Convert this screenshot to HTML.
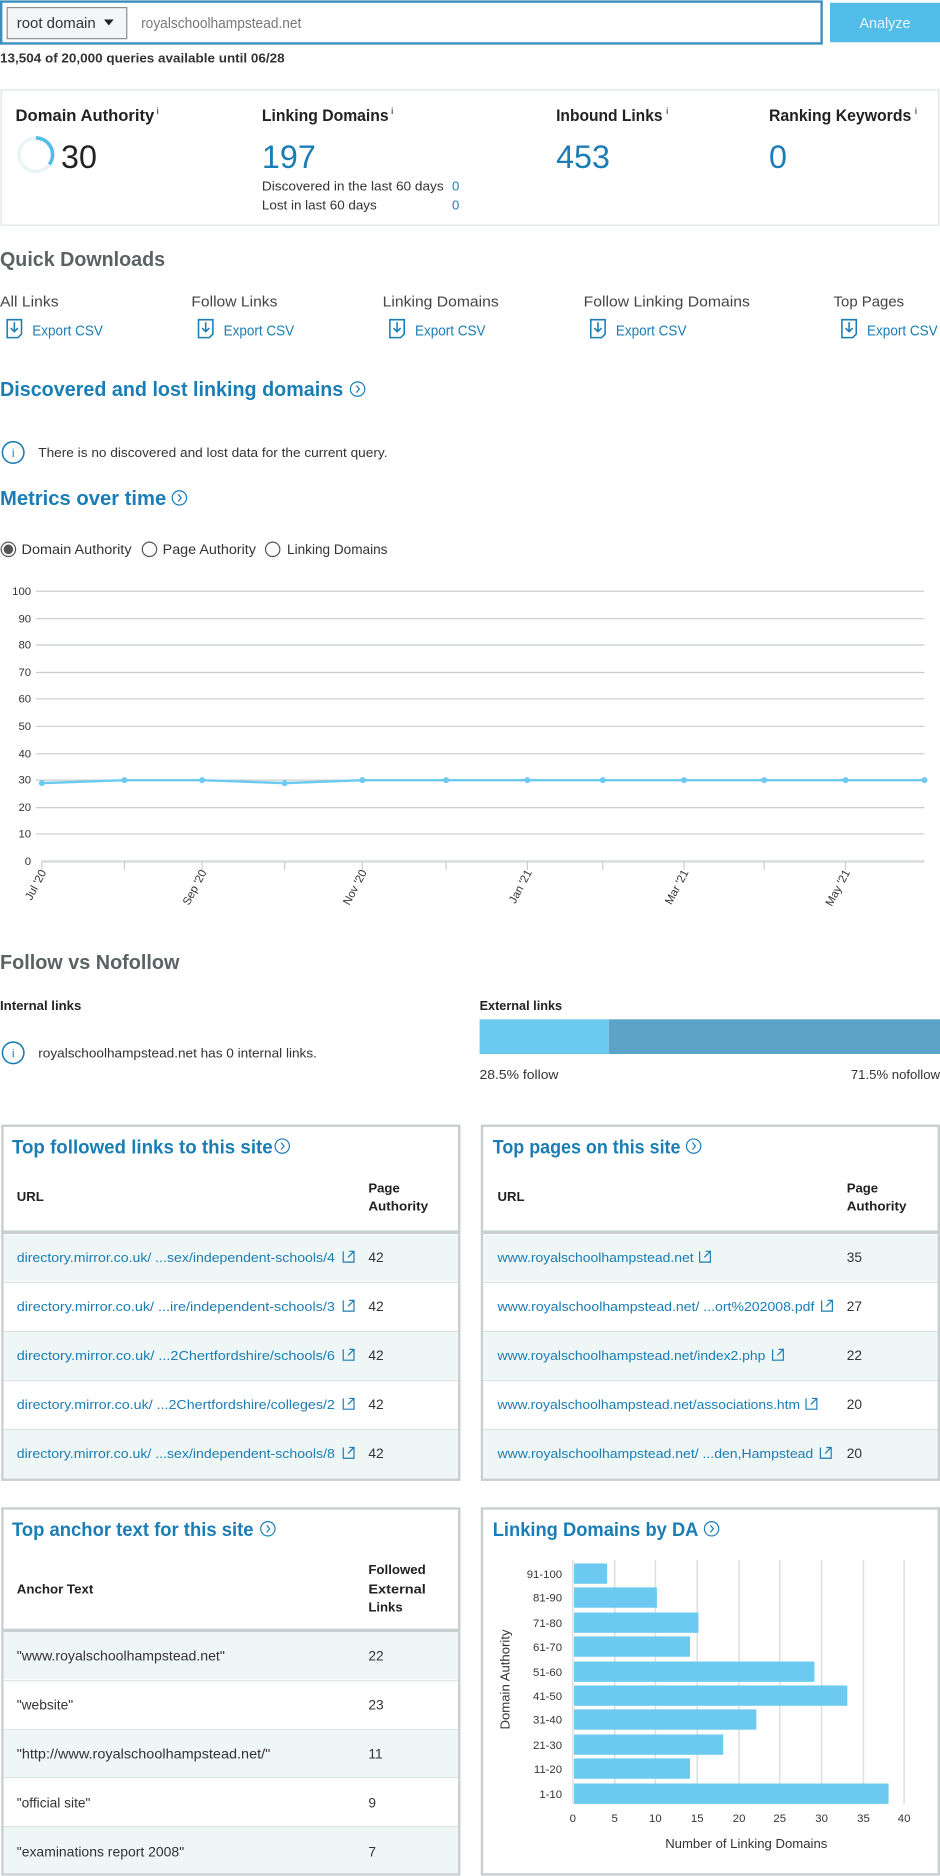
<!DOCTYPE html>
<html><head><meta charset="utf-8"><style>
html,body{margin:0;padding:0;background:#fff;}
svg{display:block;}
text{font-family:"Liberation Sans",sans-serif;}
</style></head><body>
<svg width="940" height="1876" viewBox="0 0 786 1568" xmlns="http://www.w3.org/2000/svg">
<rect x="1" y="1" width="686" height="35" fill="#fff" stroke="#3b8fbf" stroke-width="2"/>
<rect x="6" y="6" width="100" height="26" fill="#f2f6f6" stroke="#8a9090" stroke-width="1"/>
<text x="14" y="23" font-size="12" fill="#333" textLength="66" lengthAdjust="spacingAndGlyphs">root domain</text>
<path d="M87 16 L95 16 L91 21 Z" fill="#222"/>
<text x="118" y="23" font-size="12" fill="#777" textLength="134" lengthAdjust="spacingAndGlyphs">royalschoolhampstead.net</text>
<rect x="694" y="2" width="92" height="33" fill="#52bde8"/>
<text x="740" y="23" font-size="12" fill="#e8f6fc" text-anchor="middle">Analyze</text>
<text x="0" y="52" font-size="11" font-weight="bold" fill="#333" textLength="238" lengthAdjust="spacingAndGlyphs">13,504 of 20,000 queries available until 06/28</text>
<rect x="1" y="75" width="784" height="113" fill="#fff" stroke="#dde3e3" stroke-width="1"/>
<g font-size="14" font-weight="bold" fill="#222">
<text x="13" y="101" textLength="116" lengthAdjust="spacingAndGlyphs">Domain Authority</text>
<text x="219" y="101" textLength="106" lengthAdjust="spacingAndGlyphs">Linking Domains</text>
<text x="465" y="101" textLength="89" lengthAdjust="spacingAndGlyphs">Inbound Links</text>
<text x="643" y="101" textLength="119" lengthAdjust="spacingAndGlyphs">Ranking Keywords</text>
</g>
<g font-size="8" fill="#222"><text x="131" y="95">i</text><text x="327" y="95">i</text><text x="557" y="95">i</text><text x="765" y="95">i</text></g>
<circle cx="30" cy="129" r="14" fill="none" stroke="#e9f4f6" stroke-width="3"/>
<path d="M30 115 A14 14 0 0 1 41.3 137.2" fill="none" stroke="#52bde8" stroke-width="3"/>
<text x="51" y="140" font-size="27" fill="#222">30</text>
<text x="219" y="140" font-size="27" fill="#1a7db5">197</text>
<text x="465" y="140" font-size="27" fill="#1a7db5">453</text>
<text x="643" y="140" font-size="27" fill="#1a7db5">0</text>
<text x="219" y="159" font-size="11" fill="#333" textLength="152" lengthAdjust="spacingAndGlyphs">Discovered in the last 60 days</text>
<text x="378" y="159" font-size="11" fill="#1a7db5">0</text>
<text x="219" y="175" font-size="11" fill="#333" textLength="96" lengthAdjust="spacingAndGlyphs">Lost in last 60 days</text>
<text x="378" y="175" font-size="11" fill="#1a7db5">0</text>
<text x="0" y="222" font-size="17" font-weight="bold" fill="#5a6262" font-family="Liberation Serif" textLength="138" lengthAdjust="spacingAndGlyphs">Quick Downloads</text>
<g font-size="12.5" fill="#444">
<text x="0" y="256" textLength="49" lengthAdjust="spacingAndGlyphs">All Links</text><text x="160" y="256" textLength="72" lengthAdjust="spacingAndGlyphs">Follow Links</text><text x="320" y="256" textLength="97" lengthAdjust="spacingAndGlyphs">Linking Domains</text><text x="488" y="256" textLength="139" lengthAdjust="spacingAndGlyphs">Follow Linking Domains</text><text x="697" y="256" textLength="59" lengthAdjust="spacingAndGlyphs">Top Pages</text>
</g>
<g font-size="12" fill="#1a7db5">
<text x="27" y="280" textLength="59" lengthAdjust="spacingAndGlyphs">Export CSV</text><text x="187" y="280" textLength="59" lengthAdjust="spacingAndGlyphs">Export CSV</text><text x="347" y="280" textLength="59" lengthAdjust="spacingAndGlyphs">Export CSV</text><text x="515" y="280" textLength="59" lengthAdjust="spacingAndGlyphs">Export CSV</text><text x="725" y="280" textLength="59" lengthAdjust="spacingAndGlyphs">Export CSV</text>
</g>
<g fill="none" stroke="#1a7db5" stroke-width="1.3">
<path d="M6 267 h12 v12 l-3 3 h-9 z M12 269 v8 M9 274 l3 3 l3 -3"/>
<path d="M166 267 h12 v12 l-3 3 h-9 z M172 269 v8 M169 274 l3 3 l3 -3"/>
<path d="M326 267 h12 v12 l-3 3 h-9 z M332 269 v8 M329 274 l3 3 l3 -3"/>
<path d="M494 267 h12 v12 l-3 3 h-9 z M500 269 v8 M497 274 l3 3 l3 -3"/>
<path d="M704 267 h12 v12 l-3 3 h-9 z M710 269 v8 M707 274 l3 3 l3 -3"/>
</g>
<text x="0" y="331" font-size="17" font-weight="bold" fill="#1a7db5" textLength="287" lengthAdjust="spacingAndGlyphs">Discovered and lost linking domains</text>
<circle cx="299" cy="325" r="6" fill="none" stroke="#1a7db5" stroke-width="1"/><path d="M298 322 l2.5 3 l-2.5 3" fill="none" stroke="#1a7db5"/>
<circle cx="11" cy="378" r="9" fill="none" stroke="#1a7db5" stroke-width="1.3"/>
<text x="11" y="382" font-size="10" fill="#1a7db5" text-anchor="middle">i</text>
<text x="32" y="382" font-size="11" fill="#333" textLength="292" lengthAdjust="spacingAndGlyphs">There is no discovered and lost data for the current query.</text>
<text x="0" y="422" font-size="17" font-weight="bold" fill="#1a7db5" textLength="139" lengthAdjust="spacingAndGlyphs">Metrics over time</text>
<circle cx="150" cy="416" r="6" fill="none" stroke="#1a7db5" stroke-width="1"/><path d="M149 413 l2.5 3 l-2.5 3" fill="none" stroke="#1a7db5"/>
<circle cx="7" cy="459" r="6" fill="none" stroke="#555"/><circle cx="7" cy="459" r="4" fill="#555"/>
<text x="18" y="463" font-size="11.5" fill="#333" textLength="92" lengthAdjust="spacingAndGlyphs">Domain Authority</text>
<circle cx="125" cy="459" r="6" fill="none" stroke="#555"/>
<text x="136" y="463" font-size="11.5" fill="#333" textLength="78" lengthAdjust="spacingAndGlyphs">Page Authority</text>
<circle cx="228" cy="459" r="6" fill="none" stroke="#555"/>
<text x="240" y="463" font-size="11.5" fill="#333" textLength="84" lengthAdjust="spacingAndGlyphs">Linking Domains</text>
<g stroke="#c8cccc" stroke-width="1">
<line x1="30" y1="494" x2="773" y2="494"/><line x1="30" y1="517" x2="773" y2="517"/><line x1="30" y1="539" x2="773" y2="539"/><line x1="30" y1="562" x2="773" y2="562"/><line x1="30" y1="584" x2="773" y2="584"/><line x1="30" y1="607" x2="773" y2="607"/><line x1="30" y1="630" x2="773" y2="630"/><line x1="30" y1="652" x2="773" y2="652"/><line x1="30" y1="675" x2="773" y2="675"/><line x1="30" y1="697" x2="773" y2="697"/>
</g>
<line x1="35" y1="720" x2="773" y2="720" stroke="#d8dcdc" stroke-width="2"/>
<g font-size="9.5" fill="#333" text-anchor="end">
<text x="26" y="497">100</text><text x="26" y="520">90</text><text x="26" y="542">80</text><text x="26" y="565">70</text><text x="26" y="587">60</text><text x="26" y="610">50</text><text x="26" y="633">40</text><text x="26" y="655">30</text><text x="26" y="678">20</text><text x="26" y="700">10</text><text x="26" y="723">0</text>
</g>
<g stroke="#ccc"><line x1="35" y1="720" x2="35" y2="727"/><line x1="104" y1="720" x2="104" y2="727"/><line x1="169" y1="720" x2="169" y2="727"/><line x1="238" y1="720" x2="238" y2="727"/><line x1="303" y1="720" x2="303" y2="727"/><line x1="373" y1="720" x2="373" y2="727"/><line x1="441" y1="720" x2="441" y2="727"/><line x1="504" y1="720" x2="504" y2="727"/><line x1="572" y1="720" x2="572" y2="727"/><line x1="639" y1="720" x2="639" y2="727"/><line x1="707" y1="720" x2="707" y2="727"/></g>
<polyline points="35,654.5 104,652 169,652 238,654.5 303,652 373,652 441,652 504,652 572,652 639,652 707,652 773,652" fill="none" stroke="#6ccaf0" stroke-width="2"/>
<g fill="#6ccaf0"><circle cx="35" cy="654.5" r="2.5"/><circle cx="104" cy="652" r="2.5"/><circle cx="169" cy="652" r="2.5"/><circle cx="238" cy="654.5" r="2.5"/><circle cx="303" cy="652" r="2.5"/><circle cx="373" cy="652" r="2.5"/><circle cx="441" cy="652" r="2.5"/><circle cx="504" cy="652" r="2.5"/><circle cx="572" cy="652" r="2.5"/><circle cx="639" cy="652" r="2.5"/><circle cx="707" cy="652" r="2.5"/><circle cx="773" cy="652" r="2.5"/></g>
<g font-size="9.5" fill="#333" text-anchor="end">
<text transform="translate(39,729) rotate(-62)">Jul '20</text>
<text transform="translate(173,729) rotate(-62)">Sep '20</text>
<text transform="translate(307,729) rotate(-62)">Nov '20</text>
<text transform="translate(445,729) rotate(-62)">Jan '21</text>
<text transform="translate(576,729) rotate(-62)">Mar '21</text>
<text transform="translate(711,729) rotate(-62)">May '21</text>
</g>
<text x="0" y="810" font-size="17" font-weight="bold" fill="#5a6262" font-family="Liberation Serif" textLength="150" lengthAdjust="spacingAndGlyphs">Follow vs Nofollow</text>
<text x="0" y="844" font-size="11" font-weight="bold" fill="#222" textLength="68" lengthAdjust="spacingAndGlyphs">Internal links</text>
<text x="401" y="844" font-size="11" font-weight="bold" fill="#222" textLength="69" lengthAdjust="spacingAndGlyphs">External links</text>
<circle cx="11" cy="880" r="9" fill="none" stroke="#1a7db5" stroke-width="1.3"/>
<text x="11" y="884" font-size="10" fill="#1a7db5" text-anchor="middle">i</text>
<text x="32" y="884" font-size="11" fill="#333" textLength="233" lengthAdjust="spacingAndGlyphs">royalschoolhampstead.net has 0 internal links.</text>
<rect x="401" y="852" width="108" height="29" fill="#6ccaf0"/>
<rect x="509" y="852" width="277" height="29" fill="#5ba4c7"/>
<text x="401" y="902" font-size="11" fill="#333" textLength="66" lengthAdjust="spacingAndGlyphs">28.5% follow</text>
<text x="786" y="902" font-size="11" fill="#333" text-anchor="end">71.5% nofollow</text>
<!-- panel 1 -->
<rect x="2" y="941" width="382" height="296" fill="#fff" stroke="#c9cfcf" stroke-width="2"/>
<text x="10" y="964" font-size="16.5" font-weight="bold" fill="#1a7db5" textLength="218" lengthAdjust="spacingAndGlyphs">Top followed links to this site</text>
<circle cx="236" cy="958" r="6" fill="none" stroke="#1a7db5"/><path d="M235 955 l2.5 3 l-2.5 3" fill="none" stroke="#1a7db5"/>
<text x="14" y="1004" font-size="11" font-weight="bold" fill="#222">URL</text>
<text x="308" y="997" font-size="11" font-weight="bold" fill="#222">Page</text>
<text x="308" y="1012" font-size="11" font-weight="bold" fill="#222" textLength="50" lengthAdjust="spacingAndGlyphs">Authority</text>
<line x1="3" y1="1030" x2="383" y2="1030" stroke="#c9cfcf" stroke-width="3"/>
<rect x="3" y="1032" width="380" height="39" fill="#eef6f6"/>
<rect x="3" y="1113" width="380" height="40" fill="#eef6f6"/>
<rect x="3" y="1195" width="380" height="41" fill="#eef6f6"/>
<g stroke="#dde3e3"><line x1="3" y1="1072" x2="383" y2="1072"/><line x1="3" y1="1113" x2="383" y2="1113"/><line x1="3" y1="1154" x2="383" y2="1154"/><line x1="3" y1="1195" x2="383" y2="1195"/></g>
<g font-size="11" fill="#1a7db5">
<text x="14" y="1055" textLength="266" lengthAdjust="spacingAndGlyphs">directory.mirror.co.uk/ ...sex/independent-schools/4</text>
<text x="14" y="1096" textLength="266" lengthAdjust="spacingAndGlyphs">directory.mirror.co.uk/  ...ire/independent-schools/3</text>
<text x="14" y="1137" textLength="266" lengthAdjust="spacingAndGlyphs">directory.mirror.co.uk/  ...2Chertfordshire/schools/6</text>
<text x="14" y="1178" textLength="266" lengthAdjust="spacingAndGlyphs">directory.mirror.co.uk/ ...2Chertfordshire/colleges/2</text>
<text x="14" y="1219" textLength="266" lengthAdjust="spacingAndGlyphs">directory.mirror.co.uk/ ...sex/independent-schools/8</text>
</g>
<g font-size="11.5" fill="#333"><text x="308" y="1055">42</text><text x="308" y="1096">42</text><text x="308" y="1137">42</text><text x="308" y="1178">42</text><text x="308" y="1219">42</text></g>
<g fill="none" stroke="#1a7db5" stroke-width="1">
<path d="M287 1046 v9 h9 v-6 M291 1051 l5 -5 M292 1046 h4 v4"/>
<path d="M287 1087 v9 h9 v-6 M291 1092 l5 -5 M292 1087 h4 v4"/>
<path d="M287 1128 v9 h9 v-6 M291 1133 l5 -5 M292 1128 h4 v4"/>
<path d="M287 1169 v9 h9 v-6 M291 1174 l5 -5 M292 1169 h4 v4"/>
<path d="M287 1210 v9 h9 v-6 M291 1215 l5 -5 M292 1210 h4 v4"/>
</g>
<!-- panel 2 -->
<rect x="403" y="941" width="382" height="296" fill="#fff" stroke="#c9cfcf" stroke-width="2"/>
<text x="412" y="964" font-size="16.5" font-weight="bold" fill="#1a7db5" textLength="157" lengthAdjust="spacingAndGlyphs">Top pages on this site</text>
<circle cx="580" cy="958" r="6" fill="none" stroke="#1a7db5"/><path d="M579 955 l2.5 3 l-2.5 3" fill="none" stroke="#1a7db5"/>
<text x="416" y="1004" font-size="11" font-weight="bold" fill="#222">URL</text>
<text x="708" y="997" font-size="11" font-weight="bold" fill="#222">Page</text>
<text x="708" y="1012" font-size="11" font-weight="bold" fill="#222" textLength="50" lengthAdjust="spacingAndGlyphs">Authority</text>
<line x1="404" y1="1030" x2="784" y2="1030" stroke="#c9cfcf" stroke-width="3"/>
<rect x="404" y="1032" width="380" height="39" fill="#eef6f6"/>
<rect x="404" y="1113" width="380" height="40" fill="#eef6f6"/>
<rect x="404" y="1195" width="380" height="41" fill="#eef6f6"/>
<g stroke="#dde3e3"><line x1="404" y1="1072" x2="784" y2="1072"/><line x1="404" y1="1113" x2="784" y2="1113"/><line x1="404" y1="1154" x2="784" y2="1154"/><line x1="404" y1="1195" x2="784" y2="1195"/></g>
<g font-size="11" fill="#1a7db5">
<text x="416" y="1055" textLength="164" lengthAdjust="spacingAndGlyphs">www.royalschoolhampstead.net</text>
<text x="416" y="1096" textLength="265" lengthAdjust="spacingAndGlyphs">www.royalschoolhampstead.net/  ...ort%202008.pdf</text>
<text x="416" y="1137" textLength="224" lengthAdjust="spacingAndGlyphs">www.royalschoolhampstead.net/index2.php</text>
<text x="416" y="1178" textLength="253" lengthAdjust="spacingAndGlyphs">www.royalschoolhampstead.net/associations.htm</text>
<text x="416" y="1219" textLength="264" lengthAdjust="spacingAndGlyphs">www.royalschoolhampstead.net/    ...den,Hampstead</text>
</g>
<g font-size="11.5" fill="#333"><text x="708" y="1055">35</text><text x="708" y="1096">27</text><text x="708" y="1137">22</text><text x="708" y="1178">20</text><text x="708" y="1219">20</text></g>
<g fill="none" stroke="#1a7db5" stroke-width="1">
<path d="M585 1046 v9 h9 v-6 M589 1051 l5 -5 M590 1046 h4 v4"/>
<path d="M687 1087 v9 h9 v-6 M691 1092 l5 -5 M692 1087 h4 v4"/>
<path d="M646 1128 v9 h9 v-6 M650 1133 l5 -5 M651 1128 h4 v4"/>
<path d="M674 1169 v9 h9 v-6 M678 1174 l5 -5 M679 1169 h4 v4"/>
<path d="M686 1210 v9 h9 v-6 M690 1215 l5 -5 M691 1210 h4 v4"/>
</g>
<!-- panel 3 -->
<rect x="2" y="1261" width="382" height="306" fill="#fff" stroke="#c9cfcf" stroke-width="2"/>
<text x="10" y="1284" font-size="16.5" font-weight="bold" fill="#1a7db5" textLength="202" lengthAdjust="spacingAndGlyphs">Top anchor text for this site</text>
<circle cx="224" cy="1278" r="6" fill="none" stroke="#1a7db5"/><path d="M223 1275 l2.5 3 l-2.5 3" fill="none" stroke="#1a7db5"/>
<text x="14" y="1332" font-size="11" font-weight="bold" fill="#222" textLength="64" lengthAdjust="spacingAndGlyphs">Anchor Text</text>
<text x="308" y="1316" font-size="11" font-weight="bold" fill="#222" textLength="48" lengthAdjust="spacingAndGlyphs">Followed</text>
<text x="308" y="1332" font-size="11" font-weight="bold" fill="#222" textLength="48" lengthAdjust="spacingAndGlyphs">External</text>
<text x="308" y="1347" font-size="11" font-weight="bold" fill="#222">Links</text>
<line x1="3" y1="1363" x2="383" y2="1363" stroke="#c9cfcf" stroke-width="3"/>
<rect x="3" y="1365" width="380" height="39" fill="#eef6f6"/>
<rect x="3" y="1446" width="380" height="40" fill="#eef6f6"/>
<rect x="3" y="1527" width="380" height="39" fill="#eef6f6"/>
<g stroke="#dde3e3"><line x1="3" y1="1405" x2="383" y2="1405"/><line x1="3" y1="1446" x2="383" y2="1446"/><line x1="3" y1="1486" x2="383" y2="1486"/><line x1="3" y1="1527" x2="383" y2="1527"/></g>
<g font-size="11.5" fill="#333">
<text x="14" y="1388" textLength="174" lengthAdjust="spacingAndGlyphs">"www.royalschoolhampstead.net"</text><text x="308" y="1388">22</text>
<text x="14" y="1429">"website"</text><text x="308" y="1429">23</text>
<text x="14" y="1470" textLength="212" lengthAdjust="spacingAndGlyphs">"http://www.royalschoolhampstead.net/"</text><text x="308" y="1470">11</text>
<text x="14" y="1511">"official site"</text><text x="308" y="1511">9</text>
<text x="14" y="1552" textLength="140" lengthAdjust="spacingAndGlyphs">"examinations report 2008"</text><text x="308" y="1552">7</text>
</g>
<!-- panel 4 -->
<rect x="403" y="1261" width="382" height="306" fill="#fff" stroke="#c9cfcf" stroke-width="2"/>
<text x="412" y="1284" font-size="16.5" font-weight="bold" fill="#1a7db5" textLength="172" lengthAdjust="spacingAndGlyphs">Linking Domains by DA</text>
<circle cx="595" cy="1278" r="6" fill="none" stroke="#1a7db5"/><path d="M594 1275 l2.5 3 l-2.5 3" fill="none" stroke="#1a7db5"/>
<g stroke="#dde0e0" stroke-width="1.3">
<line x1="479" y1="1304" x2="479" y2="1508"/><line x1="514" y1="1304" x2="514" y2="1508"/><line x1="548" y1="1304" x2="548" y2="1508"/><line x1="583" y1="1304" x2="583" y2="1508"/><line x1="618" y1="1304" x2="618" y2="1508"/><line x1="652" y1="1304" x2="652" y2="1508"/><line x1="687" y1="1304" x2="687" y2="1508"/><line x1="722" y1="1304" x2="722" y2="1508"/><line x1="756" y1="1304" x2="756" y2="1508"/>
</g>
<g fill="#6ccaf0">
<rect x="480" y="1307" width="27.7" height="17"/>
<rect x="480" y="1327" width="69.3" height="17"/>
<rect x="480" y="1348" width="104" height="17"/>
<rect x="480" y="1368" width="97" height="17"/>
<rect x="480" y="1389" width="201" height="17"/>
<rect x="480" y="1409" width="228.5" height="17"/>
<rect x="480" y="1429" width="152.4" height="17"/>
<rect x="480" y="1450" width="124.7" height="17"/>
<rect x="480" y="1470" width="97" height="17"/>
<rect x="480" y="1491" width="263" height="17"/>
</g>
<g font-size="9.5" fill="#333" text-anchor="end">
<text x="470" y="1319">91-100</text><text x="470" y="1339">81-90</text><text x="470" y="1360">71-80</text><text x="470" y="1380">61-70</text><text x="470" y="1401">51-60</text><text x="470" y="1421">41-50</text><text x="470" y="1441">31-40</text><text x="470" y="1462">21-30</text><text x="470" y="1482">11-20</text><text x="470" y="1503">1-10</text>
</g>
<g font-size="9.5" fill="#333" text-anchor="middle">
<text x="479" y="1523">0</text><text x="514" y="1523">5</text><text x="548" y="1523">10</text><text x="583" y="1523">15</text><text x="618" y="1523">20</text><text x="652" y="1523">25</text><text x="687" y="1523">30</text><text x="722" y="1523">35</text><text x="756" y="1523">40</text>
</g>
<text x="624" y="1545" font-size="11" fill="#333" text-anchor="middle">Number of Linking Domains</text>
<text transform="translate(426,1404) rotate(-90)" font-size="11" fill="#333" text-anchor="middle">Domain Authority</text>
</svg>
</body></html>
